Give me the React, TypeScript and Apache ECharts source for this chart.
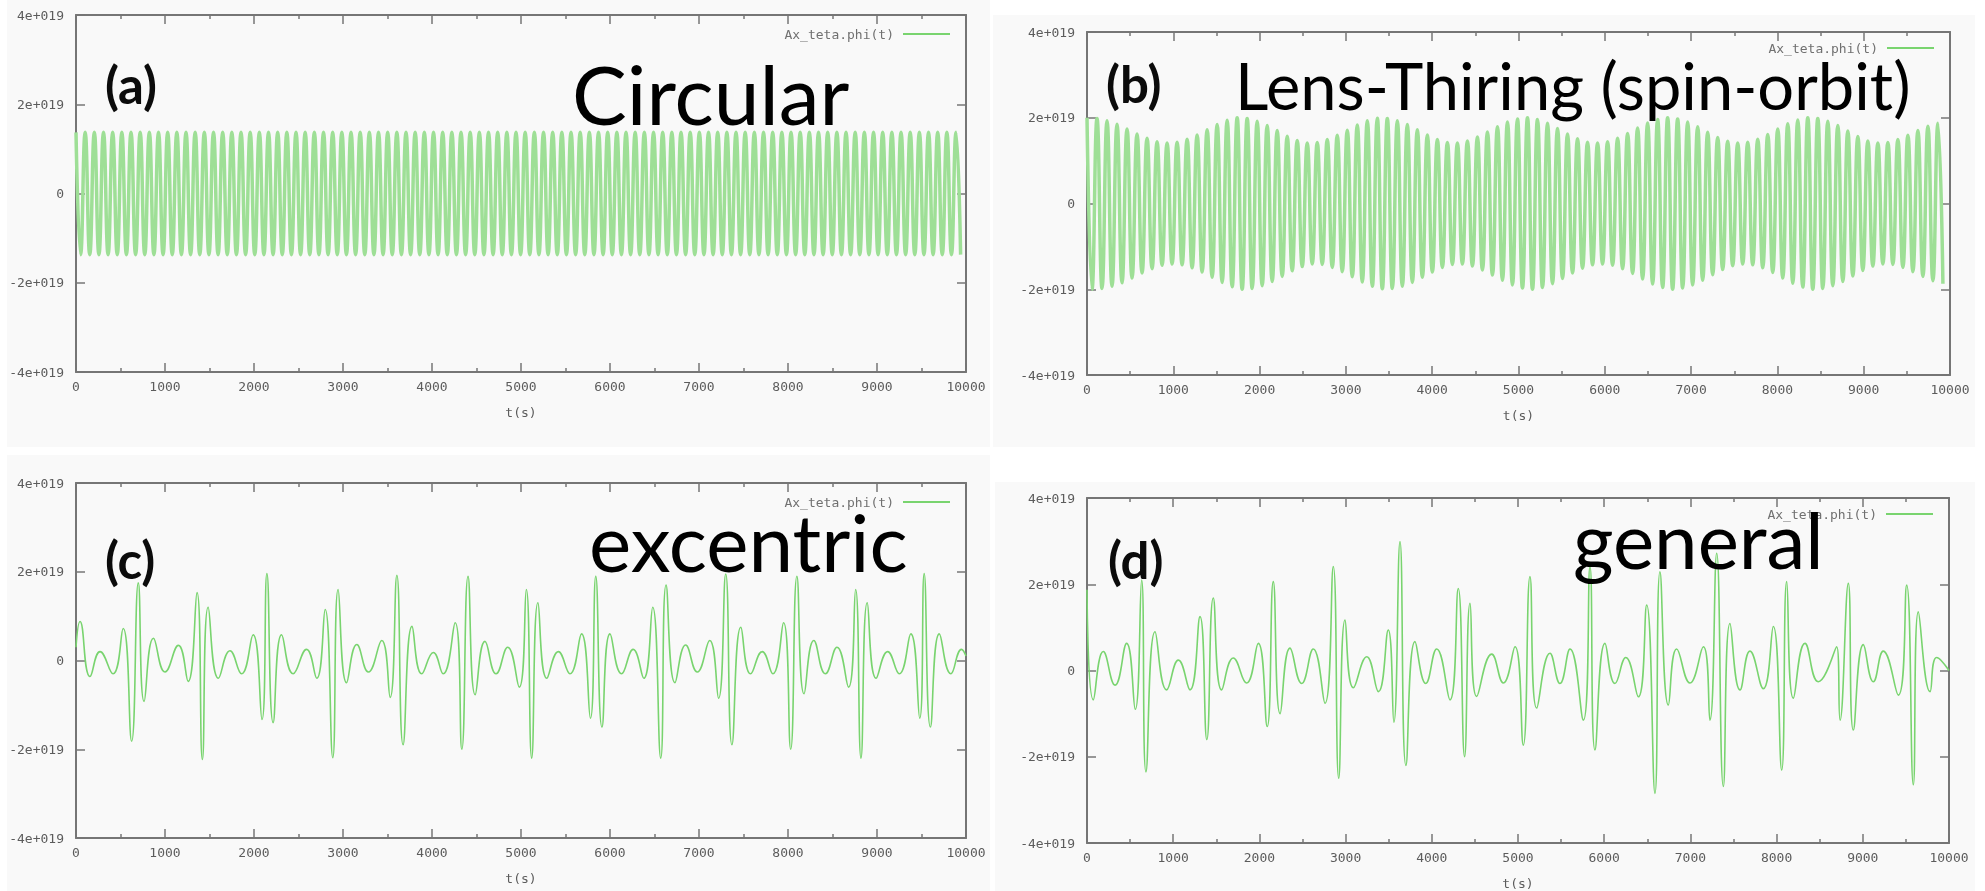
import React, { useEffect, useRef } from "react";
import * as echarts from "echarts";

// ---- axis ticks -------------------------------------------------------
const xTickValues = [0, 1000, 2000, 3000, 4000, 5000, 6000, 7000, 8000, 9000, 10000];
const xTickLabels = ["0", "1000", "2000", "3000", "4000", "5000", "6000", "7000", "8000", "9000", "10000"];
const yTickValues = [-4, -2, 0, 2, 4];
const yTickLabels = ["-4e+019", "-2e+019", "0", "2e+019", "4e+019"];

// ---- texts ------------------------------------------------------------
const panelLetters = ["(a)", "(b)", "(c)", "(d)"];
const panelTitles = ["Circular", "Lens-Thiring (spin-orbit)", "excentric", "general"];
const seriesLabel = "Ax_teta.phi(t)";
const timeAxisName = "t(s)";

// ---- (a) circular orbit: one amplitude per cycle (units of 1e19) -----
const circularHalfPeriod = 51.5;
const circularAmplitudes = [
  1.37, 1.37, 1.37, 1.37, 1.37, 1.37, 1.37, 1.37, 1.37, 1.37,
  1.37, 1.37, 1.37, 1.37, 1.37, 1.37, 1.37, 1.37, 1.37, 1.37,
  1.37, 1.37, 1.37, 1.37, 1.37, 1.37, 1.37, 1.37, 1.37, 1.37,
  1.37, 1.37, 1.37, 1.37, 1.37, 1.37, 1.37, 1.37, 1.37, 1.37,
  1.37, 1.37, 1.37, 1.37, 1.37, 1.37, 1.37, 1.37, 1.37, 1.37,
  1.37, 1.37, 1.37, 1.37, 1.37, 1.37, 1.37, 1.37, 1.37, 1.37,
  1.37, 1.37, 1.37, 1.37, 1.37, 1.37, 1.37, 1.37, 1.37, 1.37,
  1.37, 1.37, 1.37, 1.37, 1.37, 1.37, 1.37, 1.37, 1.37, 1.37,
  1.37, 1.37, 1.37, 1.37, 1.37, 1.37, 1.37, 1.37, 1.37, 1.37,
  1.37, 1.37, 1.37, 1.37, 1.37, 1.37, 1.37,
];

// ---- (b) Lens-Thiring: one amplitude per cycle (units of 1e19) -------
const spinOrbitHalfPeriod = 58;
const spinOrbitAmplitudes = [
  2.0, 1.98, 1.93, 1.85, 1.74, 1.62, 1.52, 1.44, 1.41, 1.43,
  1.5, 1.6, 1.72, 1.84, 1.94, 2.0, 1.98, 1.92, 1.82, 1.7,
  1.57, 1.47, 1.41, 1.42, 1.49, 1.59, 1.71, 1.83, 1.93, 1.99,
  1.98, 1.93, 1.84, 1.72, 1.6, 1.49, 1.42, 1.41, 1.46, 1.55,
  1.67, 1.79, 1.9, 1.97, 2.0, 1.96, 1.87, 1.75, 1.62, 1.51,
  1.43, 1.41, 1.44, 1.52, 1.63, 1.76, 1.88, 1.96, 2.0, 1.97,
  1.9, 1.79, 1.66, 1.54, 1.45, 1.41, 1.43, 1.5, 1.61, 1.74,
  1.86, 1.95, 2.0, 1.98, 1.92, 1.82, 1.69, 1.56, 1.46, 1.41,
  1.42, 1.49, 1.59, 1.7, 1.8, 1.87,
];

// ---- (c) eccentric orbit: extrema [t (s), value (1e19)] --------------
const eccentricExtrema: [number, number][] = [
  [0, 0.3], [45, 0.88], [157, -0.36], [270, 0.2], [416, -0.3], [530, 0.72],
  [625, -1.82], [700, 1.75], [765, -0.92], [870, 0.5], [1000, -0.26], [1150, 0.34],
  [1260, -0.47], [1360, 1.53], [1420, -2.23], [1485, 1.2], [1600, -0.4], [1730, 0.22],
  [1860, -0.3], [1990, 0.58], [2090, -1.33], [2145, 1.96], [2215, -1.4], [2310, 0.58],
  [2440, -0.3], [2590, 0.25], [2705, -0.4], [2800, 1.15], [2885, -2.19], [2945, 1.6],
  [3040, -0.5], [3155, 0.36], [3285, -0.26], [3435, 0.45], [3530, -0.83], [3605, 1.92],
  [3675, -1.9], [3775, 0.77], [3885, -0.3], [4015, 0.18], [4125, -0.3], [4260, 0.85],
  [4335, -2.0], [4405, 1.9], [4485, -0.77], [4595, 0.43], [4720, -0.3], [4850, 0.3],
  [4980, -0.6], [5060, 1.6], [5120, -2.2], [5190, 1.3], [5290, -0.4], [5420, 0.2],
  [5550, -0.3], [5680, 0.6], [5780, -1.3], [5840, 1.9], [5910, -1.5], [6000, 0.6],
  [6130, -0.3], [6260, 0.25], [6380, -0.4], [6480, 1.2], [6570, -2.2], [6630, 1.7],
  [6730, -0.5], [6850, 0.35], [6980, -0.26], [7120, 0.45], [7220, -0.85], [7300, 1.95],
  [7370, -1.9], [7470, 0.75], [7580, -0.3], [7710, 0.2], [7830, -0.3], [7950, 0.85],
  [8030, -2.0], [8100, 1.9], [8180, -0.75], [8290, 0.45], [8420, -0.3], [8550, 0.3],
  [8680, -0.6], [8760, 1.6], [8820, -2.2], [8890, 1.3], [8990, -0.4], [9120, 0.2],
  [9250, -0.3], [9380, 0.6], [9480, -1.3], [9530, 1.96], [9600, -1.5], [9700, 0.6],
  [9830, -0.3], [9950, 0.25], [10000, 0.1],
];

// ---- (d) general orbit: extrema [t (s), value (1e19)] ----------------
const generalExtrema: [number, number][] = [
  [0, 1.87], [73, -0.68], [189, 0.44], [325, -0.34], [460, 0.63], [560, -0.9],
  [634, 2.1], [684, -2.35], [789, 0.9], [924, -0.45], [1060, 0.24], [1195, -0.45],
  [1311, 1.25], [1390, -1.6], [1465, 1.68], [1562, -0.45], [1697, 0.29], [1850, -0.29],
  [1987, 0.63], [2090, -1.3], [2161, 2.06], [2240, -1.0], [2355, 0.52], [2490, -0.3],
  [2625, 0.5], [2761, -0.76], [2857, 2.41], [2920, -2.5], [2993, 1.17], [3090, -0.4],
  [3245, 0.32], [3381, -0.49], [3495, 0.94], [3560, -1.2], [3631, 2.99], [3700, -2.2],
  [3805, 0.67], [3930, -0.3], [4057, 0.5], [4211, -0.68], [4307, 1.9], [4380, -2.0],
  [4443, 1.56], [4521, -0.6], [4695, 0.38], [4830, -0.29], [4965, 0.55], [5061, -1.73],
  [5139, 2.18], [5217, -0.87], [5371, 0.4], [5487, -0.3], [5603, 0.5], [5758, -1.15],
  [5835, 2.41], [5893, -1.84], [6009, 0.63], [6125, -0.3], [6250, 0.3], [6396, -0.61],
  [6493, 1.52], [6589, -2.85], [6647, 2.29], [6744, -0.8], [6841, 0.5], [6995, -0.29],
  [7150, 0.55], [7227, -1.15], [7305, 2.72], [7382, -2.69], [7459, 1.09], [7575, -0.45],
  [7691, 0.45], [7846, -0.42], [7962, 1.02], [8059, -2.31], [8117, 2.06], [8194, -0.64],
  [8329, 0.63], [8484, -0.26], [8697, 0.55], [8736, -1.15], [8832, 2.02], [8890, -1.38],
  [9006, 0.6], [9122, -0.26], [9237, 0.45], [9412, -0.57], [9509, 1.98], [9586, -2.65],
  [9644, 1.36], [9780, -0.49], [9857, 0.3], [10000, 0.0],
];

// ---- layout -----------------------------------------------------------
const W = 1985;
const H = 891;

const panelBoxes = [
  { x: 7, y: 0, w: 983, h: 447 },
  { x: 993, y: 15, w: 982, h: 432 },
  { x: 7, y: 455, w: 983, h: 436 },
  { x: 995, y: 482, w: 980, h: 409 },
];

const grids = [
  { left: 76, top: 15, width: 890, height: 357 },
  { left: 1087, top: 32, width: 863, height: 343 },
  { left: 76, top: 483, width: 890, height: 355 },
  { left: 1087, top: 498, width: 862, height: 345 },
];

const AXIS_COLOR = "#767676";
const LABEL_COLOR = "#5c5c5c";
const LINE_COLOR = "#79d46f";
const DENSE_COLOR = "#9edf96";
const MONO = "'DejaVu Sans Mono', monospace";

function cycleSeries(amps: number[], half: number): [number, number][] {
  const out: [number, number][] = [];
  amps.forEach((a, i) => {
    out.push([2 * i * half, a]);
    out.push([(2 * i + 1) * half, -a]);
  });
  return out;
}

function xLabel(v: number) {
  const i = xTickValues.indexOf(v);
  return i >= 0 ? xTickLabels[i] : "";
}
function yLabel(v: number) {
  const i = yTickValues.indexOf(v);
  return i >= 0 ? yTickLabels[i] : "";
}

function buildPlotOption() {
  const seriesData = [
    cycleSeries(circularAmplitudes, circularHalfPeriod),
    cycleSeries(spinOrbitAmplitudes, spinOrbitHalfPeriod),
    eccentricExtrema,
    generalExtrema,
  ];
  const dense = [true, true, false, false];

  const xAxis: any[] = [];
  const yAxis: any[] = [];
  const series: any[] = [];
  const graphic: any[] = [];

  panelBoxes.forEach((b) => {
    graphic.push({
      type: "rect",
      z: -10,
      shape: { x: b.x, y: b.y, width: b.w, height: b.h },
      style: { fill: "#f9f9f9" },
    });
  });

  grids.forEach((g, i) => {
    const tick = { inside: true, length: 9, lineStyle: { color: AXIS_COLOR, width: 1.5 } };
    const line = { show: true, onZero: false, lineStyle: { color: AXIS_COLOR, width: 2 } };
    const minor = { show: true, splitNumber: 2, length: 4, lineStyle: { color: AXIS_COLOR, width: 1.5 } };
    xAxis.push({
      gridIndex: i,
      type: "value",
      position: "bottom",
      min: 0,
      max: 10000,
      interval: 1000,
      axisLine: line,
      axisTick: tick,
      minorTick: minor,
      splitLine: { show: false },
      axisLabel: { color: LABEL_COLOR, fontFamily: MONO, fontSize: 13, margin: 8, formatter: xLabel },
      name: timeAxisName,
      nameLocation: "middle",
      nameGap: 34,
      nameTextStyle: { color: LABEL_COLOR, fontFamily: MONO, fontSize: 13 },
    });
    xAxis.push({
      gridIndex: i,
      type: "value",
      position: "top",
      min: 0,
      max: 10000,
      interval: 1000,
      axisLine: line,
      axisTick: tick,
      minorTick: minor,
      splitLine: { show: false },
      axisLabel: { show: false },
    });
    yAxis.push({
      gridIndex: i,
      type: "value",
      position: "left",
      min: -4,
      max: 4,
      interval: 2,
      axisLine: line,
      axisTick: tick,
      splitLine: { show: false },
      axisLabel: { color: LABEL_COLOR, fontFamily: MONO, fontSize: 13, margin: 12, formatter: yLabel },
    });
    yAxis.push({
      gridIndex: i,
      type: "value",
      position: "right",
      min: -4,
      max: 4,
      interval: 2,
      axisLine: line,
      axisTick: tick,
      splitLine: { show: false },
      axisLabel: { show: false },
    });
    series.push({
      type: "line",
      xAxisIndex: 2 * i,
      yAxisIndex: 2 * i,
      data: seriesData[i],
      showSymbol: false,
      smooth: 0.5,
      clip: true,
      lineStyle: dense[i]
        ? { color: DENSE_COLOR, width: 3.5, opacity: 1 }
        : { color: LINE_COLOR, width: 1.6, opacity: 1 },
      z: 2,
    });

    // key entry in the upper right corner of every frame
    const right = g.left + g.width;
    const ky = g.top + (i % 2 === 0 ? 19 : 16);
    graphic.push({
      type: "text",
      x: right - 72,
      y: ky,
      z: 5,
      style: {
        text: seriesLabel,
        fill: "#707070",
        font: `13px ${MONO}`,
        textAlign: "right",
        textVerticalAlign: "middle",
        align: "right",
        verticalAlign: "middle",
      },
    });
    graphic.push({
      type: "line",
      z: 5,
      shape: { x1: right - 63, y1: ky, x2: right - 16, y2: ky },
      style: { stroke: LINE_COLOR, lineWidth: 2 },
    });
  });

  return {
    animation: false,
    backgroundColor: "#ffffff",
    grid: grids.map((g) => ({ ...g, containLabel: false })),
    xAxis,
    yAxis,
    series,
    graphic,
  };
}

function buildTextOption() {
  const titleSpecs = [
    { x: 572, y: 93, size: 82 },
    { x: 1235, y: 85, size: 65 },
    { x: 589, y: 541, size: 80 },
    { x: 1573, y: 539, size: 78 },
  ];
  const letterSpecs = [
    { x: 105, y: 84 },
    { x: 1106, y: 83 },
    { x: 105, y: 559 },
    { x: 1108, y: 559 },
  ];
  const graphic: any[] = [];
  titleSpecs.forEach((t, i) => {
    graphic.push({
      type: "text",
      x: t.x,
      y: t.y,
      style: {
        text: panelTitles[i],
        fill: "#000000",
        font: `${t.size}px Lato`,
        lineHeight: Math.round(t.size * 0.8),
        textAlign: "left",
        textVerticalAlign: "middle",
        align: "left",
        verticalAlign: "middle",
      },
    });
  });
  letterSpecs.forEach((t, i) => {
    graphic.push({
      type: "text",
      x: t.x,
      y: t.y,
      style: {
        text: panelLetters[i],
        fill: "#0b0b0b",
        font: `bold 51px Lato`,
        textAlign: "left",
        textVerticalAlign: "middle",
        align: "left",
        verticalAlign: "middle",
      },
    });
  });
  return { animation: false, backgroundColor: "transparent", graphic };
}

export default function App() {
  const plotRef = useRef<HTMLDivElement>(null);
  const textRef = useRef<HTMLDivElement>(null);

  useEffect(() => {
    const plot = echarts.init(plotRef.current as HTMLDivElement, undefined, { renderer: "svg" });
    const text = echarts.init(textRef.current as HTMLDivElement, undefined, { renderer: "svg" });
    plot.setOption(buildPlotOption() as any);
    text.setOption(buildTextOption() as any);
    return () => {
      plot.dispose();
      text.dispose();
    };
  }, []);

  return (
    <div style={{ position: "fixed", left: 0, top: 0, width: W, height: H, background: "#ffffff" }}>
      <div
        ref={plotRef}
        style={{ position: "absolute", left: 0, top: 0, width: W, height: H, filter: "blur(0.6px)" }}
      />
      <div
        ref={textRef}
        style={{ position: "absolute", left: 0, top: 0, width: W, height: H, pointerEvents: "none" }}
      />
    </div>
  );
}
